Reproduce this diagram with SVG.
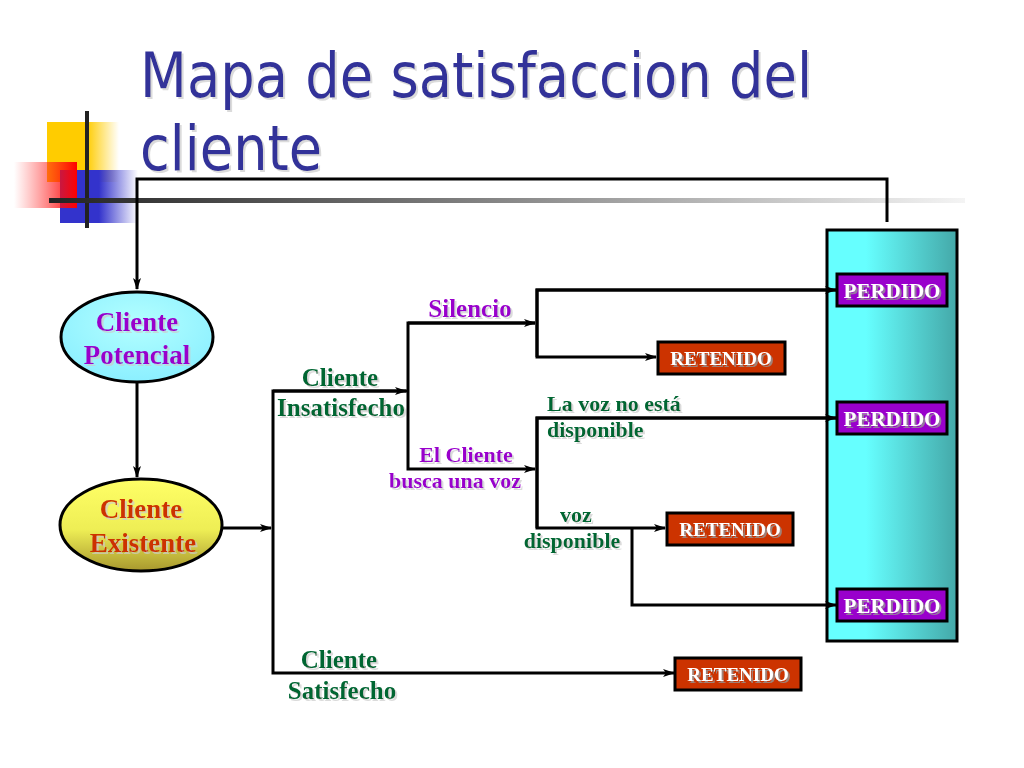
<svg xmlns="http://www.w3.org/2000/svg" width="1024" height="768" viewBox="0 0 1024 768">
<defs>
<linearGradient id="gYellow" x1="0" y1="0" x2="1" y2="0"><stop offset="0" stop-color="#ffcc00"/><stop offset="0.55" stop-color="#ffcc00"/><stop offset="1" stop-color="#ffcc00" stop-opacity="0"/></linearGradient>
<linearGradient id="gRed" x1="0" y1="0" x2="1" y2="0"><stop offset="0" stop-color="#ff3333" stop-opacity="0"/><stop offset="1" stop-color="#ff0000"/></linearGradient>
<linearGradient id="gBlue" x1="0" y1="0" x2="1" y2="0"><stop offset="0" stop-color="#3333cc"/><stop offset="0.5" stop-color="#3333cc"/><stop offset="1" stop-color="#3333cc" stop-opacity="0"/></linearGradient>
<linearGradient id="gLine" gradientUnits="userSpaceOnUse" x1="49" y1="0" x2="965" y2="0"><stop offset="0" stop-color="#222"/><stop offset="0.5" stop-color="#888"/><stop offset="1" stop-color="#f4f4f4"/></linearGradient>
<linearGradient id="gCyan" x1="0" y1="0" x2="1" y2="0"><stop offset="0" stop-color="#66ffff"/><stop offset="0.3" stop-color="#66ffff"/><stop offset="1" stop-color="#44a8a8"/></linearGradient>
<radialGradient id="gPot" cx="0.5" cy="0.35" r="0.7"><stop offset="0" stop-color="#b3ffff"/><stop offset="1" stop-color="#88eeff"/></radialGradient>
<linearGradient id="gExi" x1="0" y1="0" x2="0" y2="1"><stop offset="0" stop-color="#ffff66"/><stop offset="0.55" stop-color="#eeee55"/><stop offset="1" stop-color="#a8982e"/></linearGradient>
<filter id="sh" x="-10%" y="-10%" width="130%" height="140%"><feOffset in="SourceAlpha" dx="2" dy="2" result="o"/><feColorMatrix in="o" type="matrix" values="0 0 0 0 0.6  0 0 0 0 0.6  0 0 0 0 0.6  0 0 0 0.7 0" result="c"/><feMerge><feMergeNode in="c"/><feMergeNode in="SourceGraphic"/></feMerge></filter>
<filter id="shd" x="-10%" y="-10%" width="130%" height="140%"><feOffset in="SourceAlpha" dx="2" dy="2" result="o"/><feColorMatrix in="o" type="matrix" values="0 0 0 0 0.3  0 0 0 0 0.3  0 0 0 0 0.3  0 0 0 0.8 0" result="c"/><feMerge><feMergeNode in="c"/><feMergeNode in="SourceGraphic"/></feMerge></filter>
<marker id="arr" viewBox="0 0 12 10" refX="11" refY="5" markerWidth="12" markerHeight="10" markerUnits="userSpaceOnUse" orient="auto"><path d="M0,1 L12,5 L0,9 L3,5 z" fill="#000"/></marker>
</defs>
<style>
.title{font-family:"DejaVu Sans Condensed","DejaVu Sans",sans-serif;font-size:63px;fill:#333399}
.t{font-family:"Liberation Serif","Times New Roman",serif;font-weight:bold;text-anchor:middle}
.tl{font-family:"Liberation Serif","Times New Roman",serif;font-weight:bold}
.green{fill:#006633}
.purple{fill:#9900cc}
.conn{fill:none;stroke:#000;stroke-width:3}
.ret{fill:#cc3300;stroke:#000;stroke-width:3}
.per{fill:#9900cc;stroke:#000;stroke-width:3}
.wt{fill:#fff;font-size:19px}
.pt{fill:#fff;font-size:21px}
</style>
<rect width="1024" height="768" fill="#fff"/>
<g id="decoration">
<rect x="47" y="122" width="72" height="60" fill="url(#gYellow)"/>
<rect x="60" y="170" width="78" height="53" fill="url(#gBlue)"/>
<rect x="14" y="162" width="63" height="46" fill="url(#gRed)"/>
<line x1="87" y1="111" x2="87" y2="228" stroke="#222" stroke-width="4"/>
<rect x="49" y="198" width="916" height="5" fill="url(#gLine)"/>
</g>
<g id="title" filter="url(#sh)">
<text class="title" x="140" y="97" textLength="672" lengthAdjust="spacingAndGlyphs">Mapa de satisfaccion del</text>
<text class="title" x="140" y="170" textLength="182" lengthAdjust="spacingAndGlyphs">cliente</text>
</g>
<g id="container">
<rect x="827" y="230" width="130" height="411" fill="url(#gCyan)" stroke="#000" stroke-width="3"/>
</g>
<g id="connectors">
<path class="conn" d="M887,222 L887,179 L137,179 L137,289" marker-end="url(#arr)"/>
<path class="conn" d="M137,383 L137,477" marker-end="url(#arr)"/>
<path class="conn" d="M222,528 L271,528" marker-end="url(#arr)"/>
<path class="conn" d="M407,391 L273,391 L273,673 L674,673" marker-end="url(#arr)"/>
<path class="conn" d="M273,391 L406,391" marker-end="url(#arr)"/>
<path class="conn" d="M535,323 L408,323 L408,469 L535,469" marker-end="url(#arr)"/>
<path class="conn" d="M408,323 L535,323" marker-end="url(#arr)"/>
<path class="conn" d="M836,290 L537,290 L537,357 L656,357" marker-end="url(#arr)"/>
<path class="conn" d="M537,357 L537,290 L836,290" marker-end="url(#arr)"/>
<path class="conn" d="M836,418 L537,418 L537,528 L665,528" marker-end="url(#arr)"/>
<path class="conn" d="M537,528 L537,418 L836,418" marker-end="url(#arr)"/>
<path class="conn" d="M632,528 L632,605 L836,605" marker-end="url(#arr)"/>
</g>
<g id="potencial">
<ellipse cx="137" cy="337" rx="76" ry="45" fill="url(#gPot)" stroke="#000" stroke-width="3"/>
<text class="t purple" x="137" y="331" font-size="27" filter="url(#sh)">Cliente</text>
<text class="t purple" x="137" y="364" font-size="27" filter="url(#sh)">Potencial</text>
</g>
<g id="existente">
<ellipse cx="141" cy="525" rx="81" ry="46" fill="url(#gExi)" stroke="#000" stroke-width="3"/>
<text class="t" x="141" y="518" font-size="27" fill="#cc3300" filter="url(#sh)">Cliente</text>
<text class="t" x="143" y="552" font-size="27" fill="#cc3300" filter="url(#sh)">Existente</text>
</g>
<g id="lbl-insatisfecho" filter="url(#sh)">
<text class="t green" x="340" y="386" font-size="25">Cliente</text>
<text class="t green" x="341" y="416" font-size="25">Insatisfecho</text>
</g>
<g id="lbl-satisfecho" filter="url(#sh)">
<text class="t green" x="339" y="668" font-size="25">Cliente</text>
<text class="t green" x="342" y="699" font-size="25">Satisfecho</text>
</g>
<g id="lbl-silencio" filter="url(#sh)">
<text class="t purple" x="470" y="317" font-size="25">Silencio</text>
</g>
<g id="lbl-busca" filter="url(#sh)">
<text class="t purple" x="466" y="462" font-size="22">El Cliente</text>
<text class="t purple" x="455" y="488" font-size="22">busca una voz</text>
</g>
<g id="lbl-novoz" filter="url(#sh)">
<text class="tl green" x="547" y="411" font-size="22">La voz no está</text>
<text class="tl green" x="547" y="437" font-size="22">disponible</text>
</g>
<g id="lbl-voz" filter="url(#sh)">
<text class="t green" x="576" y="522" font-size="22">voz</text>
<text class="t green" x="572" y="548" font-size="22">disponible</text>
</g>
<g id="retenido1">
<rect class="ret" x="658" y="342" width="127" height="32"/>
<text class="t wt" x="721" y="365" filter="url(#shd)">RETENIDO</text>
</g>
<g id="retenido2">
<rect class="ret" x="667" y="513" width="126" height="32"/>
<text class="t wt" x="730" y="536" filter="url(#shd)">RETENIDO</text>
</g>
<g id="retenido3">
<rect class="ret" x="675" y="658" width="126" height="32"/>
<text class="t wt" x="738" y="681" filter="url(#shd)">RETENIDO</text>
</g>
<g id="perdido1">
<rect class="per" x="837" y="274" width="110" height="32"/>
<text class="t pt" x="892" y="298" filter="url(#shd)">PERDIDO</text>
</g>
<g id="perdido2">
<rect class="per" x="837" y="402" width="110" height="32"/>
<text class="t pt" x="892" y="426" filter="url(#shd)">PERDIDO</text>
</g>
<g id="perdido3">
<rect class="per" x="837" y="589" width="110" height="32"/>
<text class="t pt" x="892" y="613" filter="url(#shd)">PERDIDO</text>
</g>
</svg>
